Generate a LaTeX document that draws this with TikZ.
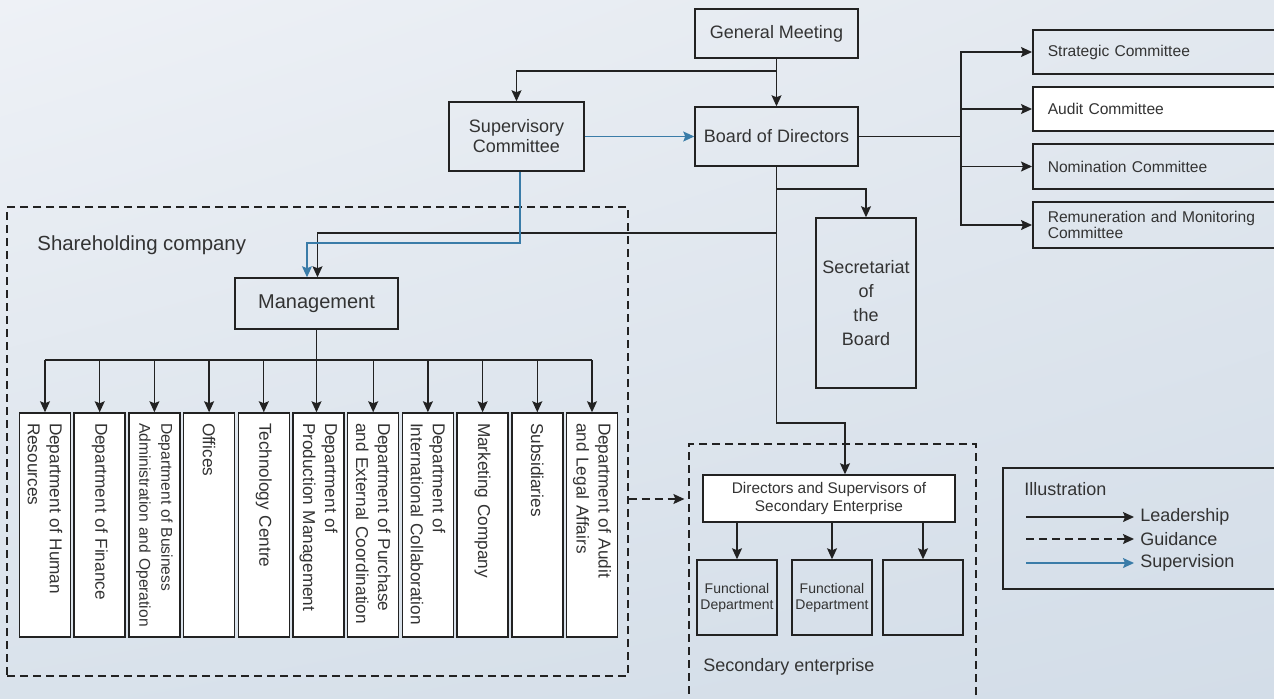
\documentclass[tikz,border=0pt]{standalone}
\usepackage{fontspec}
\setmainfont{Liberation Sans}
\usetikzlibrary{arrows.meta,calc,shadings}
\definecolor{txt}{HTML}{333333}
\definecolor{linec}{HTML}{222222}
\definecolor{bluec}{HTML}{3A7CA8}
\definecolor{bgA}{HTML}{EEF1F6}
\definecolor{bgB}{HTML}{E2E8EF}
\definecolor{bgC}{HTML}{D9E2EB}
\definecolor{bgD}{HTML}{D3DDE8}
\newcommand\nohyphx{\hyphenpenalty=10000 \exhyphenpenalty=10000\relax}
\begin{document}
\begin{tikzpicture}[x=0.5pt,y=-0.5pt,
  every node/.style={text=txt},
  box/.style={draw=linec, line width=0.75pt, inner sep=0pt, align=center, font=\fontsize{9}{10}\selectfont},
  dept/.style={box, fill=white, rotate=-90, minimum width=112pt, minimum height=25.5pt, text width=102pt, inner xsep=5pt, inner ysep=0pt, align=left, font=\fontsize{8.6}{11}\selectfont\nohyphx},
  comm/.style={box, anchor=west, minimum width=130pt, text width=115pt, inner xsep=7.5pt, align=left, font=\fontsize{7.8}{8}\selectfont},
  func/.style={box, minimum width=40pt, minimum height=37.5pt, font=\fontsize{7}{8}\selectfont},
  plain/.style={draw=linec, line width=0.65pt},
  lead/.style={draw=linec, line width=0.65pt, -{Stealth[length=5.5pt,width=5pt,inset=1pt]}},
  supv/.style={draw=bluec, line width=0.65pt, -{Stealth[length=5.5pt,width=5pt,inset=1pt]}},
  guid/.style={lead, dash pattern=on 4pt off 2.5pt},
  dashbox/.style={draw=linec, line width=0.6pt, dash pattern=on 4pt off 2.5pt, inner sep=0pt},
  lbl/.style={anchor=west, inner sep=0pt},
]
\useasboundingbox (0,0) rectangle (1274,698);
\clip (0,0) rectangle (1274,698);
\shade[upper left=bgA, upper right=bgB, lower left=bgC, lower right=bgD] (0,0) rectangle (1274,698);

% containers
\node[dashbox, minimum width=310.5pt, minimum height=234.5pt] (shc) at (317.5,441.5) {};
\node[dashbox, minimum width=143.5pt, minimum height=138pt] (sec2) at (832.5,582) {};
\node[lbl, font=\fontsize{10.2}{12}\selectfont] (shl) at (37,245) {Shareholding company};
\node[lbl, font=\fontsize{9}{10}\selectfont] (sel) at (703,667) {Secondary enterprise};

% top
\node[box, minimum width=81.5pt, minimum height=24.5pt] (gm) at (776.5,33.5) {General Meeting};
\node[box, minimum width=81.5pt, minimum height=29.5pt] (board) at (776.5,136.5) {Board of Directors};
\node[box, minimum width=67.5pt, minimum height=34.5pt] (sup) at (516.5,136.5) {Supervisory\\Committee};

% committees
\node[comm, minimum height=22pt] (strat) at (1032,52) {Strategic Committee};
\node[comm, fill=white, minimum height=22pt] (audit) at (1032,109) {Audit Committee};
\node[comm, minimum height=22.5pt] (nom) at (1032,166.5) {Nomination Committee};
\node[comm, minimum height=23pt] (rem) at (1032,225) {Remuneration and Monitoring\\Committee};

% secretariat
\node[box, minimum width=50pt, minimum height=85pt, font=\fontsize{9}{12}\selectfont] (secr) at (866,303) {Secretariat\\of\\the\\Board};

% management
\node[box, minimum width=81.5pt, minimum height=25.5pt, font=\fontsize{10}{12}\selectfont] (mgmt) at (316.5,303.5) {Management};

% departments
\node[dept] (d1) at (45,525) {Department of Human\\Resources};
\node[dept] (d2) at (99.7,525) {Department of Finance};
\node[dept, font=\fontsize{7.8}{11}\selectfont\nohyphx] (d3) at (154.4,525) {Department of Business\\Administration and Operation};
\node[dept] (d4) at (209.1,525) {Offices};
\node[dept] (d5) at (263.8,525) {Technology Centre};
\node[dept] (d6) at (318.5,525) {Department of\\Production Management};
\node[dept] (d7) at (373.2,525) {Department of Purchase\\and External Coordination};
\node[dept] (d8) at (427.9,525) {Department of\\International Collaboration};
\node[dept] (d9) at (482.6,525) {Marketing Company};
\node[dept] (d10) at (537.3,525) {Subsidiaries};
\node[dept] (d11) at (592,525) {Department of Audit\\and Legal Affairs};

% secondary enterprise
\node[box, fill=white, minimum width=126pt, minimum height=23.5pt, font=\fontsize{7.7}{9}\selectfont] (dir) at (829,498.5) {Directors and Supervisors of\\Secondary Enterprise};
\node[func] (f1) at (737,597.5) {Functional\\Department};
\node[func] (f2) at (832,597.5) {Functional\\Department};
\node[func] (f3) at (923,597.5) {};

% legend
\node[box, anchor=north west, minimum width=144pt, minimum height=60.5pt] (leg) at (1002,467) {};
\node[lbl, font=\fontsize{9}{10}\selectfont] (legt) at (1024,489) {Illustration};
\node[lbl, font=\fontsize{9}{10}\selectfont] (lt1) at (1140,517) {Leadership};
\node[lbl, font=\fontsize{9}{10}\selectfont] (lt2) at (1140,539) {Guidance};
\node[lbl, font=\fontsize{9}{10}\selectfont] (lt3) at (1140,563) {Supervision};
\coordinate (la1) at (1026,517);
\coordinate (la2) at (1026,539);
\coordinate (la3) at (1026,563);
\draw[lead, shorten >=3pt] (la1) -- (lt1.west |- la1);
\draw[guid, shorten >=3pt] (la2) -- (lt2.west |- la2);
\draw[supv, shorten >=3pt] (la3) -- (lt3.west |- la3);

% connectors
\coordinate (j1) at (776.5,71);
\draw[lead] (gm) -- (board);
\draw[lead] (j1) -| (sup.north);
\draw[supv] (sup.east) -- (board.west);

\coordinate (cb) at (961,136.5);
\draw[plain] (board.east) -- (cb);
\foreach \n in {strat,audit,nom,rem} \draw[lead] (cb) |- (\n.west);

\coordinate (k2) at (845,423);
\draw[lead] (board.south) |- (k2) -- (dir.north -| k2);
\coordinate (k3) at (776.5,189);
\draw[lead] (k3) -| (secr.north);
\coordinate (k4) at (776.5,233);
\draw[lead] (k4) -| ([xshift=0.5pt]mgmt.north);
\coordinate (k5) at (520,243);
\draw[supv] ([xshift=1.75pt]sup.south) -- (k5) -| ([xshift=-4.75pt]mgmt.north);

\coordinate (mb) at (316.5,360);
\draw[plain] (d1.west |- mb) -- (d11.west |- mb);
\draw[lead] (mgmt.south) -- (mgmt.south |- d6.west);
\foreach \d in {d1,d2,d3,d4,d5,d7,d8,d9,d10,d11} \draw[lead] (\d.west |- mb) -- (\d.west);

\foreach \f in {f1,f2,f3} \draw[lead] (dir.south -| \f.north) -- (\f.north);

\coordinate (gy) at (0,499);
\draw[guid, shorten >=2pt] (shc.east |- gy) -- (sec2.west |- gy);
\end{tikzpicture}
\end{document}
